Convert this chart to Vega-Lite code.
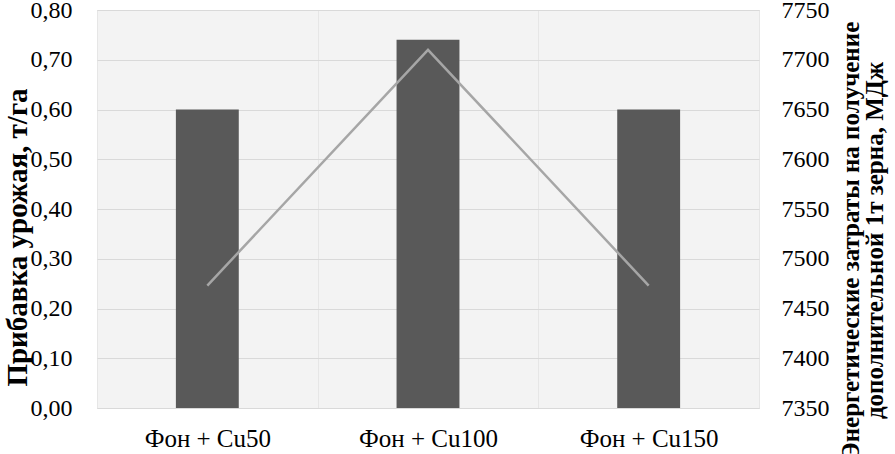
{
  "$schema": "https://vega.github.io/schema/vega-lite/v6.json",
  "autosize": {"type": "none"},
  "width": 662,
  "height": 398,
  "padding": {"left": 97, "top": 10, "right": 136, "bottom": 46},
  "background": "white",
  "config": {
    "font": "Liberation Serif",
    "view": {"fill": "#f3f3f3", "stroke": "#d9d9d9", "strokeWidth": 1}
  },
  "data": {
    "values": [
      {"variant": "Фон + Cu50", "yield": 0.60, "energy": 7473},
      {"variant": "Фон + Cu100", "yield": 0.74, "energy": 7710},
      {"variant": "Фон + Cu150", "yield": 0.60, "energy": 7473}
    ]
  },
  "encoding": {
    "x": {
      "field": "variant",
      "type": "nominal",
      "sort": null,
      "scale": {"paddingInner": 0, "paddingOuter": 0},
      "axis": {
        "title": null,
        "labelAngle": 0,
        "labelFont": "Liberation Serif",
        "labelFontSize": 25,
        "labelColor": "#000000",
        "labelPadding": 18,
        "ticks": false,
        "domain": false,
        "grid": true,
        "tickBand": "extent",
        "gridColor": "#e6e6e6",
        "gridWidth": 1
      }
    }
  },
  "layer": [
    {
      "mark": {"type": "bar", "color": "#595959", "width": {"band": 0.285}},
      "encoding": {
        "y": {
          "field": "yield",
          "type": "quantitative",
          "scale": {"domain": [0, 0.8], "nice": false},
          "axis": {
            "title": "Прибавка урожая, т/га",
            "titleFont": "Liberation Serif",
            "titleFontSize": 29,
            "titleFontWeight": "bold",
            "titleColor": "#000000",
            "titleX": -80,
            "titleY": 227,
            "titleAngle": -90,
            "titleBaseline": "middle",
            "titleAlign": "center",
            "values": [0, 0.1, 0.2, 0.3, 0.4, 0.5, 0.6, 0.7, 0.8],
            "labelExpr": "replace(format(datum.value, '.2f'), '.', ',')",
            "labelFont": "Liberation Serif",
            "labelFontSize": 24,
            "labelColor": "#000000",
            "labelPadding": 25,
            "ticks": false,
            "domain": false,
            "grid": true,
            "gridColor": "#d9d9d9",
            "gridWidth": 1
          }
        }
      }
    },
    {
      "mark": {"type": "line", "color": "#a6a6a6", "strokeWidth": 2.5},
      "encoding": {
        "y": {
          "field": "energy",
          "type": "quantitative",
          "scale": {"domain": [7350, 7750], "nice": false, "zero": false},
          "axis": {
            "orient": "right",
            "title": ["Энергетические  затраты  на  получение", "дополнительной   1т зерна, МДж"],
            "titleAngle": -90,
            "titleFont": "Liberation Serif",
            "titleFontSize": 25,
            "titleFontWeight": "bold",
            "titleColor": "#000000",
            "titleX": 91,
            "titleY": 230,
            "titleBaseline": "middle",
            "titleAlign": "center",
            "titleLineHeight": 24,
            "values": [7350, 7400, 7450, 7500, 7550, 7600, 7650, 7700, 7750],
            "format": "d",
            "labelFont": "Liberation Serif",
            "labelFontSize": 24,
            "labelColor": "#000000",
            "labelPadding": 22,
            "ticks": false,
            "domain": false,
            "grid": false
          }
        }
      }
    }
  ],
  "resolve": {"scale": {"y": "independent"}}
}
